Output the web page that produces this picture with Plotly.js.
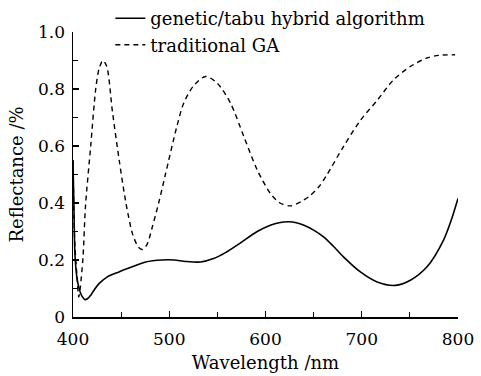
<!DOCTYPE html>
<html>
<head>
<meta charset="utf-8">
<script src="https://cdn.plot.ly/plotly-3.0.1.min.js"></script>
<style>
  html, body { margin: 0; padding: 0; background: #fff; }
  #chart { width: 481px; height: 376px; }
</style>
</head>
<body>
<div id="chart"></div>
<script>
// Wavelength (nm) and reflectance values
var hybridWavelength = [400, 401, 402, 404, 406, 409, 412.5, 415, 418.4, 422, 427, 435.7, 447.7, 461.6, 475.5, 492.8, 505, 517, 532.6, 546, 558, 570.6, 591.4, 605, 614, 624, 632, 640, 650, 660, 670, 681, 698.6, 716, 735, 750.5, 767.8, 785, 793, 800];
var hybridReflectance = [0.55, 0.38, 0.22, 0.14, 0.105, 0.075, 0.061, 0.064, 0.076, 0.095, 0.117, 0.141, 0.158, 0.176, 0.193, 0.200, 0.200, 0.195, 0.193, 0.205, 0.225, 0.252, 0.300, 0.322, 0.331, 0.334, 0.331, 0.322, 0.305, 0.282, 0.250, 0.211, 0.158, 0.123, 0.111, 0.129, 0.176, 0.270, 0.340, 0.416];

var gaWavelength = [400, 401, 402, 404, 406, 407.6, 410.4, 413, 418.4, 423.6, 427, 431, 435, 441, 448, 455, 462, 468, 472, 477, 482.4, 489, 496, 508, 515, 525, 537.7, 550, 563.7, 577.5, 591.4, 605, 615, 626, 637, 646, 655, 664, 681, 698.6, 716, 733, 750.5, 767.8, 780, 797];
var gaReflectance = [0.55, 0.35, 0.25, 0.15, 0.07, 0.105, 0.21, 0.39, 0.60, 0.80, 0.87, 0.90, 0.88, 0.72, 0.55, 0.40, 0.29, 0.245, 0.237, 0.255, 0.316, 0.40, 0.50, 0.67, 0.75, 0.81, 0.844, 0.82, 0.75, 0.633, 0.516, 0.434, 0.40, 0.39, 0.405, 0.425, 0.455, 0.50, 0.598, 0.69, 0.76, 0.832, 0.879, 0.909, 0.918, 0.92];

var seriesNames = ['genetic/tabu hybrid algorithm', 'traditional GA'];
var xTitle = 'Wavelength /nm';
var yTitle = 'Reflectance /%';

var fontFamily = 'DejaVu Serif, serif';

var traces = [
  {
    x: hybridWavelength, y: hybridReflectance, name: seriesNames[0],
    type: 'scatter', mode: 'lines',
    line: { color: '#000', width: 1.6, shape: 'spline', smoothing: 0.8 }
  },
  {
    x: gaWavelength, y: gaReflectance, name: seriesNames[1],
    type: 'scatter', mode: 'lines',
    line: { color: '#000', width: 1.4, dash: '5px,4px', shape: 'spline', smoothing: 0.8 }
  }
];

var layout = {
  width: 481, height: 376,
  margin: { l: 73, r: 23, t: 32, b: 59, autoexpand: false },
  paper_bgcolor: '#fff', plot_bgcolor: '#fff',
  font: { family: fontFamily, color: '#000', size: 17 },
  showlegend: true,
  legend: {
    x: 0.097, y: 1.112, xanchor: 'left', yanchor: 'top',
    bgcolor: 'rgba(0,0,0,0)', borderwidth: 0,
    font: { family: fontFamily, size: 18, color: '#000' },
    tracegroupgap: 0
  },
  xaxis: {
    range: [400, 800], dtick: 100, tick0: 400, automargin: false,
    showgrid: false, zeroline: false,
    showline: true, linecolor: '#000', linewidth: 1.5,
    ticks: 'inside', ticklen: 6, tickwidth: 1.2, tickcolor: '#000',
    ticklabelstandoff: 6,
    minor: { ticks: 'inside', dtick: 50, ticklen: 5, tickwidth: 1.2, tickcolor: '#000', showgrid: false },
    tickfont: { family: fontFamily, size: 17, color: '#000' },
    title: { text: xTitle, font: { family: fontFamily, size: 18, color: '#000' }, standoff: 8 }
  },
  yaxis: {
    range: [0, 1.0], dtick: 0.2, tick0: 0, tickformat: '.1f', automargin: false,
    showgrid: false, zeroline: false,
    showline: true, linecolor: '#000', linewidth: 1.5,
    ticks: 'inside', ticklen: 6, tickwidth: 1.2, tickcolor: '#000',
    ticklabelstandoff: 3,
    minor: { ticks: 'inside', dtick: 0.1, ticklen: 5, tickwidth: 1.2, tickcolor: '#000', showgrid: false },
    tickfont: { family: fontFamily, size: 17, color: '#000' },
    title: { text: yTitle, font: { family: fontFamily, size: 18, color: '#000' }, standoff: 10 }
  }
};

Plotly.newPlot('chart', traces, layout, { displayModeBar: false, staticPlot: true }).then(function () {
  // show "0" instead of "0.0" at the origin, like the reference
  var labels = document.querySelectorAll('.ytick text');
  labels.forEach(function (t) { if (t.textContent === '0.0') t.textContent = '0'; });
});
</script>
</body>
</html>
